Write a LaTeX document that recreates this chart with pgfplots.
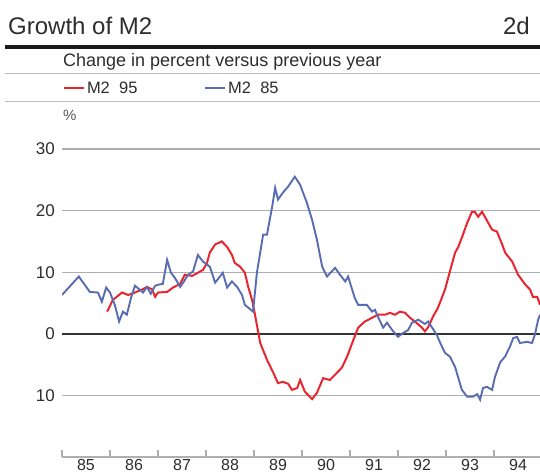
\documentclass[border=0pt]{standalone}
\usepackage{fontspec}
\setmainfont{Liberation Sans}
\usepackage{pgfplots}
\pgfplotsset{compat=1.18}
\definecolor{mred}{RGB}{232,38,48}
\definecolor{mblue}{RGB}{88,108,178}
\definecolor{gridgray}{RGB}{175,175,175}
\definecolor{txt}{RGB}{45,45,45}

\begin{document}
\begin{tikzpicture}[x=1pt,y=1pt]
\begin{axis}[
  at={(62pt,-457pt)}, anchor=south west,
  scale only axis, width=478pt, height=308pt,
  xmin=85, xmax=94.958, ymin=-20, ymax=30,
  axis x line*=bottom, axis y line*=left,
  y axis line style={draw=none},
  x axis line style={draw=gridgray, line width=1.2pt, -},
  xtick={85.5,86.5,87.5,88.5,89.5,90.5,91.5,92.5,93.5,94.5},
  xticklabels={85,86,87,88,89,90,91,92,93,94},
  minor xtick={85,86,87,88,89,90,91,92,93,94,95},
  major x tick style={draw=none},
  minor x tick style={draw=gridgray, line width=1.2pt},
  minor tick length=7pt, tick align=inside,
  xticklabel style={font=\fontsize{16}{16}\selectfont, text=txt, inner sep=0pt, anchor=north, yshift=-2.5pt},
  ytick={-10,10,20,30},
  yticklabels={{10\hspace{12pt}},10,20,30},
  ytick style={draw=none},
  extra y ticks={0}, extra y tick labels={0},
  extra y tick style={grid style={draw=black!80, line width=2pt}, ytick style={draw=none}},
  ymajorgrids, grid style={draw=gridgray, line width=1.1pt},
  yticklabel style={font=\fontsize{17}{17}\selectfont, text=txt, inner sep=0pt, anchor=east, xshift=-7pt},
  /pgf/number format/assume math mode=true,
  legend columns=2,
  legend style={draw=none, fill=none, at={(rel axis cs:0,1)}, anchor=west, xshift=1pt, yshift=61pt,
    inner sep=0pt, font=\fontsize{16.5}{16.5}\selectfont, text=txt,
    /tikz/every even column/.append style={column sep=65pt}},
  legend cell align=left,
  legend image code/.code={\draw[#1, line width=1.8pt] (0pt,0pt) -- (20pt,0pt);},
]
\addplot[mred, line width=2pt] coordinates {
(85.94,3.6) (86.06,5.5) (86.25,6.7) (86.38,6.3) (86.52,6.7) (86.67,7.2) (86.77,7.6)
(86.88,7.2) (86.94,6.0) (87.00,6.7) (87.19,6.8) (87.31,7.5) (87.46,8.1) (87.56,9.6)
(87.71,9.4) (87.83,9.9) (87.94,10.4) (88.02,11.5) (88.08,13.2) (88.19,14.5) (88.33,15.0)
(88.44,14.1) (88.54,12.8) (88.60,11.5) (88.71,10.9) (88.81,9.9) (88.88,7.6) (88.96,5.5)
(89.02,3.1) (89.08,0.6) (89.13,-1.5) (89.27,-4.2) (89.40,-6.3) (89.50,-8.0) (89.60,-7.8)
(89.71,-8.1) (89.79,-9.1) (89.90,-8.8) (89.96,-7.5) (90.06,-9.4) (90.21,-10.6) (90.31,-9.6)
(90.44,-7.2) (90.58,-7.5) (90.73,-6.3) (90.83,-5.5) (90.94,-3.7) (91.06,-1.2) (91.17,1.0)
(91.31,2.0) (91.46,2.6) (91.58,3.1) (91.73,3.1) (91.83,3.4) (91.94,3.1) (92.04,3.6)
(92.15,3.4) (92.25,2.6) (92.35,2.0) (92.50,1.0) (92.56,0.4) (92.63,1.1) (92.73,2.8)
(92.83,4.2) (92.98,7.2) (93.08,10.1) (93.19,13.2) (93.25,14.0) (93.33,15.6) (93.44,18.0)
(93.54,19.8) (93.60,19.8) (93.67,19.0) (93.75,19.8) (93.81,19.0) (93.88,18.0) (93.96,16.9)
(94.06,16.6) (94.17,14.5) (94.23,13.2) (94.38,11.7) (94.50,9.6) (94.65,8.0) (94.75,7.2)
(94.81,6.0) (94.90,6.0) (94.96,4.7)
};
\addlegendentry{M2\ \ 95}
\addplot[mblue, line width=1.9pt] coordinates {
(85.00,6.3) (85.35,9.3) (85.58,6.8) (85.75,6.7) (85.83,5.2) (85.92,7.5) (86.00,6.7)
(86.10,4.7) (86.19,2.0) (86.27,3.6) (86.35,3.1) (86.44,5.9) (86.52,7.8) (86.60,7.3)
(86.69,6.7) (86.77,7.6) (86.85,6.5) (86.94,7.8) (87.02,8.0) (87.10,8.1) (87.19,12.0)
(87.27,9.9) (87.35,9.1) (87.46,7.6) (87.54,8.5) (87.63,9.6) (87.73,10.1) (87.83,12.8)
(87.94,11.7) (88.08,10.9) (88.19,8.3) (88.35,9.9) (88.44,7.5) (88.54,8.5) (88.65,7.6)
(88.75,6.3) (88.81,4.7) (88.98,3.6) (89.06,9.9) (89.19,16.1) (89.27,16.1) (89.38,20.7)
(89.44,23.7) (89.50,21.8) (89.60,22.9) (89.71,23.9) (89.85,25.5) (89.96,24.2) (90.10,21.3)
(90.21,18.5) (90.31,15.3) (90.42,10.9) (90.52,9.3) (90.69,10.7) (90.79,9.6) (90.90,8.5)
(90.96,9.3) (91.10,5.8) (91.17,4.7) (91.35,4.7) (91.46,3.6) (91.52,3.9) (91.58,2.8)
(91.69,1.0) (91.77,1.8) (91.88,0.6) (92.00,-0.5) (92.10,0.1) (92.21,0.6) (92.29,1.8)
(92.42,2.3) (92.56,1.6) (92.63,2.0) (92.71,1.0) (92.81,-0.2) (92.88,-1.5) (92.98,-3.1)
(93.08,-3.7) (93.19,-5.4) (93.25,-7.0) (93.33,-9.1) (93.44,-10.2) (93.56,-10.2) (93.65,-9.8)
(93.71,-10.7) (93.77,-8.8) (93.85,-8.6) (93.96,-9.1) (94.02,-7.0) (94.13,-4.6) (94.23,-3.7)
(94.33,-2.1) (94.40,-0.7) (94.48,-0.5) (94.54,-1.5) (94.69,-1.3) (94.79,-1.5) (94.85,-0.2)
(94.92,2.3) (94.96,3.1)
};
\addlegendentry{M2\ \ 85}
\end{axis}
\node[anchor=base west, font=\fontsize{24}{24}\selectfont, text=txt, inner sep=0pt] at (8,-35) {Growth of M2};
\node[anchor=base east, font=\fontsize{24}{24}\selectfont, text=txt, inner sep=0pt] at (530,-35) {2d};
\draw[line width=4pt, black!90] (5,-47.5) -- (540,-47.5);
\node[anchor=base west, font=\fontsize{18}{18}\selectfont, text=txt, inner sep=0pt] at (63,-67) {Change in percent versus previous year};
\draw[gridgray!80, line width=1pt] (5,-74) -- (540,-74);
\draw[gridgray!80, line width=1pt] (5,-102) -- (540,-102);
\node[anchor=base west, font=\fontsize{15}{15}\selectfont, text=txt!80, inner sep=0pt] at (63,-121) {\%};
\pgfresetboundingbox
\path[use as bounding box] (0,0) rectangle (540,-473);
\end{tikzpicture}
\end{document}
